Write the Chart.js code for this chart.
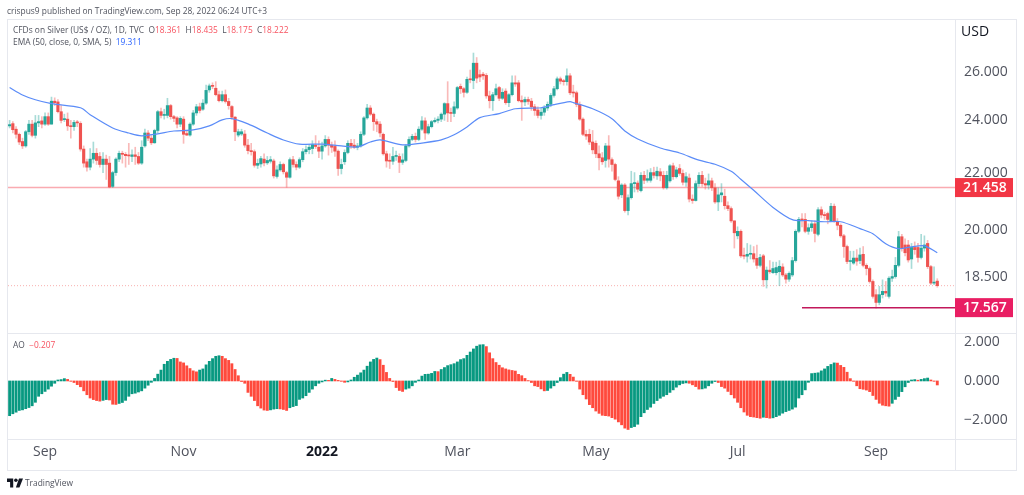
<!DOCTYPE html>
<html>
<head>
<meta charset="utf-8">
<title>CFDs on Silver</title>
<script src="https://cdn.jsdelivr.net/npm/chart.js@4/dist/chart.umd.min.js"></script>
<style>
  html, body { margin: 0; background: #fff; overflow: hidden; }
  #wrap { position: relative; width: 1024px; height: 495px; font-family: "Open Sans", sans-serif; }
  #wrap canvas { position: absolute; left: 0; top: 0; }
  .txt { position: absolute; white-space: pre; color: #50535e; font-size: 8.4px; line-height: 14px; }
  .red { color: #f7525f; }
  .blue { color: #2962ff; }
</style>
</head>
<body>
<div id="wrap">
  <canvas id="silver-chart" width="1024" height="495"></canvas>
  <div class="txt" style="left:7px;top:4px">crispus9 published on TradingView.com, Sep 28, 2022 06:24 UTC+3</div>
  <div class="txt" style="left:13px;top:23px">CFDs on Silver (US$ / OZ), 1D, TVC  O<span class="red">18.361</span>  H<span class="red">18.435</span>  L<span class="red">18.175</span>  C<span class="red">18.222</span></div>
  <div class="txt" style="left:13px;top:35px">EMA (50, close, 0, SMA, 5)  <span class="blue">19.311</span></div>
  <div class="txt" style="left:13px;top:338px">AO  <span class="red">−0.207</span></div>
  <div class="txt" style="left:961px;top:24px;font-size:14px;color:#131722">USD</div>
  <svg style="position:absolute;left:7px;top:478px" width="16" height="10" viewBox="0 0 36 20"><path fill="#131722" d="M14 20H7V8H0V0h14v20zM28 20h-8l7-20h9l-8 20z"/><circle cx="20" cy="4" r="4" fill="#131722"/></svg>
  <div class="txt" style="left:25px;top:476px">TradingView</div>
</div>
<script>
// x slots, trailing ones are the empty space before the price axis
const barIndex = Array.from({ length: 294 }, (_, i) => i);
const monthTickIndex = [11, 54, 97, 139, 182, 226, 269];
const monthTickLabels = ['Sep', 'Nov', '2022', 'Mar', 'May', 'Jul', 'Sep'];
const priceTicks = [26, 24, 22, 20, 18.5, 17.5];
const aoTicks = [2, 0, -2];

const opens = [
  23.78,23.87,23.65,23.45,23.17,23.00,23.55,23.85,23.41,23.90,
  23.98,23.85,24.15,23.85,24.78,24.75,24.35,24.03,24.05,23.78,
  23.75,23.92,23.88,22.88,22.40,22.20,22.50,22.72,22.60,22.30,
  22.50,22.35,21.50,22.00,22.50,22.72,22.68,22.63,22.60,22.66,
  22.60,22.35,23.00,23.50,23.30,23.12,23.60,24.35,24.20,24.20,
  24.60,24.15,24.10,23.85,24.05,23.48,23.42,23.85,24.30,24.55,
  24.45,24.70,25.25,25.42,25.32,25.05,24.80,25.05,24.77,24.56,
  24.13,23.42,23.46,23.46,23.03,22.82,22.78,22.27,22.32,22.50,
  22.36,22.42,22.43,21.86,22.10,22.30,22.00,21.83,22.48,22.30,
  22.20,22.48,22.78,22.86,22.90,23.03,22.95,22.80,23.00,23.25,
  23.03,22.98,22.80,22.15,
  22.40,22.75,23.10,23.03,22.95,23.00,23.45,24.10,24.50,24.25,
  23.95,23.85,23.45,22.70,22.43,22.42,22.60,22.60,22.38,22.45,
  23.00,23.25,23.37,23.25,23.65,23.98,23.50,23.75,23.95,24.00,
  24.05,24.25,24.68,24.30,24.28,24.50,25.40,25.30,25.15,25.70,
  25.65,26.40,25.90,25.92,25.87,25.00,24.80,25.05,25.35,24.90,
  25.20,24.72,25.05,25.55,25.55,24.82,24.75,24.85,24.78,24.55,
  24.42,24.20,24.33,24.50,24.65,25.02,25.30,25.72,25.62,25.60,
  25.85,25.13,25.13,24.65,24.05,23.45,23.45,23.15,23.10,22.70,
  22.55,22.45,23.00,22.48,22.30,21.70,21.20,21.55,20.65,21.10,
  21.60,21.62,21.35,21.90,21.72,21.72,22.00,21.88,22.03,
  21.90,21.45,21.70,22.25,21.85,
  22.15,21.97,21.65,21.80,21.05,21.00,21.60,21.90,21.60,21.55,
  21.70,21.45,20.95,21.20,21.15,20.82,20.72,20.30,19.80,19.95,
  19.15,19.14,19.20,19.22,19.07,18.85,19.15,18.40,18.70,18.62,
  18.62,18.65,18.80,18.55,18.42,18.55,19.00,19.95,20.35,20.35,
  19.95,20.07,20.20,19.85,20.68,20.50,20.55,20.30,20.80,20.28,
  20.15,19.80,19.45,18.97,18.92,19.08,19.00,19.20,18.85,18.75,
  18.35,17.95,17.72,17.95,18.05,17.90,18.45,18.50,18.85,19.77,
  19.50,19.50,19.05,19.42,19.42,19.10,19.40,19.55,18.81,18.30,18.361
];
const closes = [
  23.83,23.63,23.45,23.15,23.00,23.55,23.85,23.41,23.90,23.95,
  23.85,24.15,23.85,24.78,24.72,24.35,24.00,24.05,23.78,23.75,
  23.92,23.90,22.88,22.35,22.20,22.50,22.72,22.45,22.30,22.50,
  22.30,21.48,22.00,22.50,22.72,22.68,22.63,22.62,22.66,22.60,
  22.35,22.95,23.50,23.30,23.12,23.60,24.35,24.20,24.22,24.60,
  24.15,24.08,23.85,24.08,23.45,23.42,23.85,24.30,24.55,24.40,
  24.70,25.23,25.42,25.40,25.05,24.80,25.05,24.77,24.60,24.13,
  23.55,23.55,23.55,23.03,22.82,22.78,22.27,22.34,22.52,22.36,
  22.45,22.48,21.88,22.10,22.30,22.03,21.83,22.48,22.30,22.20,
  22.48,22.78,22.86,22.95,23.05,22.98,22.80,23.00,23.25,23.03,
  22.95,22.80,22.15,22.30,
  22.75,23.10,23.00,22.95,23.00,23.45,24.10,24.50,24.25,23.95,
  23.85,23.50,22.70,22.43,22.42,22.60,22.60,22.38,22.47,23.00,
  23.25,23.37,23.25,23.65,23.98,23.50,23.75,23.95,24.00,24.05,
  24.25,24.68,24.30,24.28,24.55,25.35,25.30,25.15,25.70,25.68,
  26.40,25.75,25.80,25.85,25.00,24.80,25.05,25.30,24.90,25.15,
  24.72,25.05,25.55,25.50,24.80,24.75,24.85,24.77,24.55,24.40,
  24.20,24.33,24.50,24.65,25.02,25.30,25.72,25.62,25.60,25.85,
  25.13,25.12,24.65,24.05,23.45,23.38,23.15,22.85,22.70,22.55,
  22.40,23.00,22.50,22.30,21.75,21.15,21.55,20.65,21.10,21.60,
  21.62,21.40,21.90,21.72,21.78,22.00,21.90,22.05,21.88,
  21.45,21.90,22.25,21.85,22.10,
  21.97,21.65,21.85,21.05,21.00,21.60,21.90,21.60,21.55,21.70,
  21.45,20.95,21.20,21.27,20.82,20.72,20.30,19.90,19.95,19.15,
  19.14,19.20,19.22,19.05,18.85,19.10,18.40,18.70,18.65,18.75,
  18.78,18.82,18.55,18.42,18.60,19.00,19.95,20.35,20.33,19.95,
  20.07,20.20,19.88,20.68,20.50,20.48,20.35,20.80,20.28,20.15,
  19.80,19.45,18.97,18.98,19.08,18.98,19.18,18.85,18.75,18.35,
  17.90,17.72,17.95,18.05,18.00,18.45,18.50,18.85,19.77,19.40,
  19.25,19.02,19.42,19.35,19.10,19.40,19.50,18.81,18.30,18.32,18.222
];
const highs = [
  24.00,23.95,23.75,23.50,23.30,23.60,24.00,24.00,24.20,24.20,
  24.15,24.30,24.30,24.95,24.92,24.85,24.60,24.25,24.30,24.00,
  24.00,24.00,23.95,23.00,22.50,22.90,23.15,22.90,22.75,22.75,
  22.65,22.60,22.05,22.55,22.80,22.80,22.75,23.10,22.85,22.95,
  22.75,23.20,23.65,23.60,23.40,23.65,24.40,24.50,24.45,24.90,
  24.65,24.20,24.15,24.15,24.15,23.60,23.90,24.40,24.65,24.70,
  24.85,25.45,25.50,25.55,25.60,25.20,25.20,25.25,24.90,24.60,
  24.15,23.65,23.65,23.60,23.25,23.10,22.85,22.50,22.60,22.70,
  22.60,22.60,22.50,22.25,22.40,22.35,22.05,22.55,22.60,22.40,
  22.55,22.90,23.00,23.05,23.20,23.40,23.20,23.15,23.40,23.35,
  23.15,23.20,22.85,22.50,
  22.85,23.20,23.25,23.25,23.10,23.55,24.15,24.65,24.60,24.30,
  24.05,23.95,23.50,22.80,22.70,22.95,22.80,22.70,22.70,23.05,
  23.35,23.45,23.50,23.75,24.15,24.10,23.85,24.00,24.10,24.15,
  24.30,24.72,25.60,24.50,24.75,25.40,25.50,25.35,25.80,26.10,
  26.85,26.65,26.10,26.00,25.95,25.20,25.15,25.50,25.40,25.30,
  25.30,25.10,25.85,25.85,25.65,25.00,24.95,24.95,24.90,24.65,
  24.55,24.50,24.60,24.75,25.10,25.40,25.80,25.80,25.70,26.15,
  25.95,25.45,25.20,24.75,24.10,23.60,23.65,23.60,23.20,23.00,
  22.75,23.10,23.40,22.55,22.35,21.85,21.60,21.60,21.20,22.05,
  22.00,21.70,22.00,22.05,22.10,22.15,22.20,22.20,22.15,
  22.05,22.05,22.30,22.35,22.20,
  22.30,22.10,22.00,21.95,21.20,21.70,22.00,22.05,21.80,21.95,
  21.80,21.60,21.45,21.60,21.40,20.95,20.78,20.30,20.10,20.00,
  19.40,19.55,19.50,19.45,19.50,19.20,19.20,18.80,19.00,18.95,
  18.95,19.00,18.90,18.60,18.65,19.10,20.00,20.42,20.55,20.55,
  20.20,20.30,20.30,20.75,20.78,20.60,20.60,20.90,20.88,20.38,
  20.20,19.85,19.50,19.30,19.30,19.35,19.40,19.45,18.90,18.80,
  18.40,18.10,18.20,18.40,18.35,18.50,18.70,19.10,19.95,19.85,
  19.70,19.65,19.55,19.60,19.55,19.85,19.80,19.65,18.85,18.80,18.435
];
const lows = [
  23.70,23.50,23.30,23.05,22.90,22.95,23.45,23.35,23.30,23.75,
  23.70,23.80,23.80,23.85,24.60,24.30,23.90,23.95,23.60,23.30,
  23.60,23.75,22.80,22.20,22.05,22.10,22.35,22.30,22.20,22.00,
  21.75,21.45,21.46,21.90,22.40,22.35,22.20,22.30,22.40,22.30,
  22.30,22.30,22.95,23.20,23.05,23.10,23.50,24.10,24.05,24.10,
  24.05,23.95,23.70,23.75,23.10,23.40,23.38,23.80,24.20,24.30,
  24.40,24.65,25.15,25.30,25.00,24.75,24.75,24.70,24.45,24.05,
  23.20,23.35,23.40,22.95,22.70,22.65,22.20,22.15,22.20,22.25,
  22.30,22.35,21.80,21.80,22.05,21.95,21.47,21.80,22.20,22.10,
  22.15,22.40,22.70,22.70,22.70,22.90,22.55,22.50,22.95,22.65,
  22.75,22.60,21.90,21.95,
  22.30,22.70,22.90,22.90,22.85,22.95,23.40,24.05,24.20,23.60,
  23.55,23.35,22.65,22.20,22.15,22.30,22.45,22.00,22.30,22.40,
  22.95,23.20,23.15,23.20,23.60,23.25,23.45,23.70,23.90,23.90,
  23.95,24.00,23.95,23.95,24.15,24.45,25.10,24.95,25.10,25.55,
  25.30,25.55,25.60,25.70,24.90,24.50,24.40,25.00,24.80,24.85,
  24.65,24.55,25.00,25.40,24.75,24.00,24.60,24.65,24.40,24.20,
  24.10,24.05,24.20,24.40,24.55,24.95,25.25,25.50,25.45,25.45,
  25.05,24.95,24.55,24.00,23.40,23.25,23.05,22.70,22.55,22.10,
  22.30,22.20,22.20,22.05,21.70,21.05,21.10,20.60,20.50,21.05,
  21.30,21.30,21.30,21.60,21.65,21.65,21.80,21.75,21.70,
  21.40,21.40,21.65,21.75,21.80,
  21.90,21.55,21.50,20.95,20.90,20.98,21.50,21.50,21.40,21.40,
  21.35,20.90,20.65,20.95,20.70,20.65,20.25,19.40,19.70,19.10,
  19.05,18.95,19.05,18.95,18.75,18.80,18.20,18.15,18.60,18.60,
  18.55,18.22,18.50,18.30,18.35,18.50,18.95,19.90,20.10,19.90,
  19.85,19.95,19.60,19.80,20.40,20.35,20.20,20.28,20.25,20.00,
  19.75,19.10,18.90,18.70,18.88,18.85,18.90,18.80,18.55,18.30,
  17.85,17.55,17.65,17.85,17.90,17.85,18.35,18.45,18.80,19.30,
  19.15,18.95,18.75,19.20,18.95,19.05,19.30,18.75,18.25,18.25,18.175
];

// EMA line, every few bars
const emaIndex = [0,4,8,13,22,25,32,37,41,46,51,57,62,66,69,74,80,85,90,97,103,108,112,115,122,128,134,138,142,146,
  152,157,165,169,174,175,181,187,191,195,202,208,214,219,224,227,231,237,243,248,253,258,264,268,272,276,280,284,288];
const emaValues = [25.35,25.04,24.84,24.68,24.51,24.23,23.70,23.50,23.39,23.47,23.58,23.62,23.78,24.02,24.07,23.86,23.50,23.23,23.07,23.07,23.00,22.96,23.15,23.23,23.04,23.11,23.23,23.43,23.74,24.11,
  24.27,24.47,24.51,24.64,24.76,24.72,24.47,24.07,23.58,23.27,22.92,22.73,22.46,22.31,22.05,21.76,21.36,20.76,20.34,20.31,20.27,20.27,20.04,19.87,19.54,19.38,19.44,19.47,19.25];

const aoValues = [
  -1.79,-1.69,-1.61,-1.52,-1.49,-1.43,-1.37,-1.28,-1.10,-0.79,
  -0.66,-0.54,-0.42,-0.27,-0.12,0.05,0.07,0.12,0.08,-0.02,
  -0.08,-0.19,-0.30,-0.51,-0.71,-0.88,-0.96,-1.01,-1.04,-1.00,
  -0.96,-0.98,-1.20,-1.21,-1.16,-1.11,-1.00,-0.79,-0.66,-0.63,
  -0.57,-0.51,-0.37,-0.22,-0.07,0.13,0.35,0.56,0.86,1.01,
  1.11,1.17,1.16,0.98,0.93,0.78,0.64,0.52,0.47,0.56,
  0.62,0.83,1.01,1.15,1.27,1.30,1.27,1.15,1.06,0.89,
  0.59,0.27,-0.03,-0.12,-0.59,-0.79,-1.01,-1.28,-1.40,-1.50,
  -1.52,-1.49,-1.45,-1.43,-1.44,-1.47,-1.52,-1.38,-1.32,-1.27,
  -0.95,-0.88,-0.76,-0.59,-0.42,-0.25,-0.12,-0.05,0.04,0.03,
  0.13,0.08,0.03,-0.02,-0.07,-0.05,0.05,0.19,0.30,0.42,
  0.56,0.76,0.98,1.11,1.18,1.10,0.81,0.44,0.13,-0.03,
  -0.34,-0.49,-0.54,-0.42,-0.37,-0.25,-0.07,0.05,0.25,0.34,
  0.35,0.39,0.49,0.48,0.59,0.69,0.79,0.84,0.89,0.98,
  1.10,1.15,1.32,1.49,1.65,1.79,1.86,1.87,1.77,1.45,
  1.15,0.95,0.81,0.68,0.62,0.57,0.54,0.51,0.34,0.27,
  0.13,0.02,-0.08,-0.25,-0.29,-0.41,-0.51,-0.49,-0.37,-0.25,
  -0.08,0.17,0.35,0.44,0.34,0.20,-0.02,-0.42,-0.71,-0.93,
  -1.22,-1.38,-1.55,-1.67,-1.77,-1.79,-1.81,-1.89,-1.97,-2.11,
  -2.26,-2.43,-2.50,-2.40,-2.35,-2.23,-1.84,-1.64,-1.47,-1.35,
  -1.16,-1.01,-0.89,-0.79,-0.71,-0.59,-0.46,-0.32,-0.20,-0.13,
  -0.10,-0.12,-0.20,-0.29,-0.42,-0.41,-0.37,-0.25,-0.12,-0.03,
  -0.08,-0.29,-0.37,-0.54,-0.71,-0.88,-1.10,-1.38,-1.60,-1.77,
  -1.84,-1.86,-1.89,-1.92,-1.87,-1.89,-1.92,-1.90,-1.84,-1.77,
  -1.66,-1.58,-1.52,-1.45,-1.35,-0.88,-0.71,-0.46,-0.07,0.38,
  0.40,0.42,0.52,0.62,0.75,0.85,0.93,0.92,0.80,0.70,
  0.45,0.12,-0.02,-0.25,-0.40,-0.43,-0.47,-0.55,-0.75,-0.95,
  -1.15,-1.25,-1.28,-1.30,-1.15,-0.95,-0.80,-0.55,-0.30,-0.08,
  0.05,0.07,0.04,0.08,0.12,0.15,0.05,-0.02,-0.207
];

const resistanceLevel = 21.458;
const supportLevel = 17.567;
const supportStart = 246;
const lastClose = 18.222;

const upColor = '#26a69a';
const downColor = '#ef5350';
const upWick = 'rgba(38,166,154,0.4)';
const downWick = 'rgba(239,83,80,0.4)';
const frameColor = '#e6e8ee';

const isUp = opens.map((o, i) => closes[i] >= o);

// frame, pane dividers, level lines and price badges
const panes = {
    id: 'panes',
    beforeDatasetsDraw(chart) {
        const { ctx, chartArea, scales } = chart;
        const left = chartArea.left;
        const right = chartArea.right;
        ctx.save();
        ctx.strokeStyle = frameColor;
        ctx.lineWidth = 1;
        ctx.strokeRect(7.5, 19.5, 1009, 451);
        ctx.beginPath();
        ctx.moveTo(left, Math.round(scales.yAo.top) + 0.5);
        ctx.lineTo(1016, Math.round(scales.yAo.top) + 0.5);
        ctx.moveTo(left, Math.round(scales.yAo.bottom) + 0.5);
        ctx.lineTo(1016, Math.round(scales.yAo.bottom) + 0.5);
        ctx.moveTo(right + 0.5, 20);
        ctx.lineTo(right + 0.5, 470);
        ctx.stroke();

        const yLast = scales.yPrice.getPixelForValue(lastClose);
        ctx.strokeStyle = 'rgba(239,83,80,0.45)';
        ctx.setLineDash([1, 2]);
        ctx.beginPath();
        ctx.moveTo(left, yLast);
        ctx.lineTo(right, yLast);
        ctx.stroke();
        ctx.setLineDash([]);

        const yRes = scales.yPrice.getPixelForValue(resistanceLevel);
        ctx.strokeStyle = 'rgba(242,54,69,0.42)';
        ctx.lineWidth = 1.5;
        ctx.beginPath();
        ctx.moveTo(left, yRes);
        ctx.lineTo(right, yRes);
        ctx.stroke();
        ctx.restore();
    },
    afterDraw(chart) {
        const { ctx, chartArea, scales } = chart;
        const right = chartArea.right;
        const ySup = scales.yPrice.getPixelForValue(supportLevel);
        const yRes = scales.yPrice.getPixelForValue(resistanceLevel);
        ctx.save();
        ctx.strokeStyle = '#c2185b';
        ctx.lineWidth = 1.5;
        ctx.beginPath();
        ctx.moveTo(scales.x.getPixelForValue(supportStart), ySup);
        ctx.lineTo(right, ySup);
        ctx.stroke();

        ctx.font = '600 14px "Open Sans"';
        ctx.textAlign = 'left';
        ctx.textBaseline = 'middle';
        [[yRes, '#f23645', resistanceLevel], [ySup, '#e91e63', supportLevel]].forEach(([y, color, value]) => {
            ctx.fillStyle = color;
            ctx.fillRect(right, y - 9.5, 58, 19);
            ctx.fillStyle = '#fff';
            ctx.fillText(value.toFixed(3), right + 8, y + 0.5);
        });
        ctx.restore();
    }
};

const tickFont = { family: '"Open Sans"', size: 14 };

new Chart(document.getElementById('silver-chart'), {
    data: {
        labels: barIndex,
        datasets: [
            {
                type: 'line',
                data: emaIndex.map((x, i) => ({ x: x, y: emaValues[i] })),
                yAxisID: 'yPrice',
                borderColor: '#5b8cf8',
                borderWidth: 1.2,
                pointRadius: 0,
                tension: 0.3,
                order: 0
            },
            {
                type: 'bar',
                data: opens.map((o, i) => [o, closes[i]]),
                yAxisID: 'yPrice',
                backgroundColor: isUp.map(u => (u ? upColor : downColor)),
                barThickness: 2.5,
                minBarLength: 1,
                grouped: false,
                order: 1
            },
            {
                type: 'bar',
                data: highs.map((h, i) => [lows[i], h]),
                yAxisID: 'yPrice',
                backgroundColor: isUp.map(u => (u ? upWick : downWick)),
                barThickness: 1,
                grouped: false,
                order: 2
            },
            {
                type: 'bar',
                data: aoValues,
                yAxisID: 'yAo',
                backgroundColor: aoValues.map((v, i) => (i === 0 || v >= aoValues[i - 1] ? '#089981' : '#ff4a3d')),
                barThickness: 2.2,
                grouped: false,
                order: 3
            }
        ]
    },
    options: {
        responsive: false,
        animation: false,
        layout: { padding: { left: 8, top: 20, right: 8, bottom: 29 } },
        plugins: { legend: { display: false }, tooltip: { enabled: false } },
        scales: {
            x: {
                type: 'category',
                offset: true,
                grid: { display: false, drawTicks: false },
                border: { display: false },
                afterBuildTicks: s => { s.ticks = monthTickIndex.map(i => ({ value: i })); },
                afterFit: s => { s.height = 27; },
                ticks: {
                    autoSkip: false,
                    maxRotation: 0,
                    color: c => (monthTickLabels[c.index] === '2022' ? '#131722' : '#50535e'),
                    padding: 5,
                    font: c => ({ ...tickFont, weight: monthTickLabels[c.index] === '2022' ? 'bold' : 'normal' }),
                    callback: v => monthTickLabels[monthTickIndex.indexOf(v)]
                }
            },
            yPrice: {
                type: 'logarithmic',
                position: 'right',
                stack: 'panes',
                stackWeight: 313,
                min: 16.84,
                max: 28.37,
                grid: { display: false, drawTicks: false },
                border: { display: false },
                afterBuildTicks: s => { s.ticks = priceTicks.map(v => ({ value: v })); },
                afterFit: s => { s.width = 61; },
                ticks: {
                    autoSkip: false,
                    color: '#50535e',
                    padding: 9,
                    font: tickFont,
                    callback: v => Number(v).toFixed(3)
                }
            },
            yAo: {
                type: 'linear',
                position: 'right',
                stack: 'panes',
                stackWeight: 106,
                min: -2.99,
                max: 2.47,
                grid: { display: false, drawTicks: false },
                border: { display: false },
                afterBuildTicks: s => { s.ticks = aoTicks.map(v => ({ value: v })); },
                afterFit: s => { s.width = 61; },
                ticks: {
                    autoSkip: false,
                    color: '#50535e',
                    padding: 9,
                    font: tickFont,
                    callback: v => Number(v).toFixed(3).replace('-', '\u2212')
                }
            }
        }
    },
    plugins: [panes]
});
</script>
</body>
</html>
